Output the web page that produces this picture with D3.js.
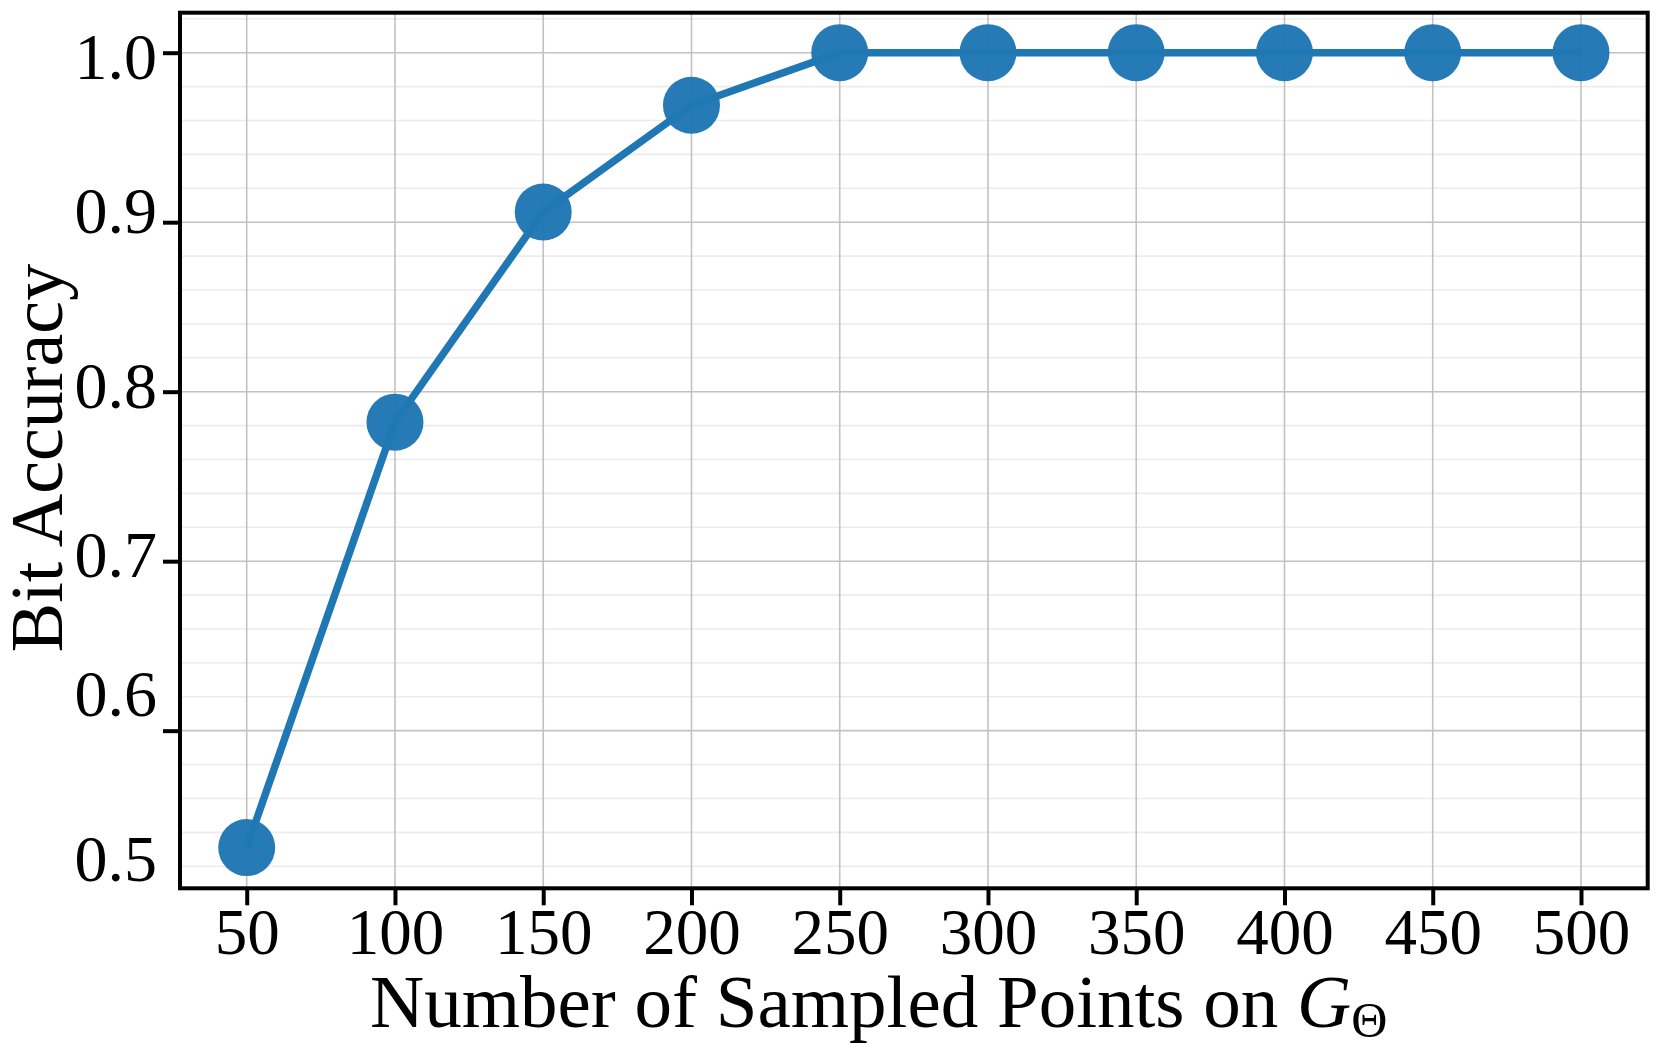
<!DOCTYPE html>
<html>
<head>
<meta charset="utf-8">
<script src="https://cdn.jsdelivr.net/npm/d3@7"></script>
<style>
  body { margin: 0; background: #fff; }
  text { font-family: "Liberation Serif", "DejaVu Serif", serif; fill: #000; }
</style>
</head>
<body>
<svg id="chart" width="1660" height="1050"></svg>
<script>
// sampled points vs bit accuracy
const samplePoints = [50, 100, 150, 200, 250, 300, 350, 400, 450, 500];
const bitAccuracy  = [0.531, 0.782, 0.906, 0.969, 1.0, 1.0, 1.0, 1.0, 1.0, 1.0];

const yTicks       = [0.6, 0.7, 0.8, 0.9, 1.0];
const yTickLabels  = ["1.0", "0.9", "0.8", "0.7", "0.6", "0.5"];
const yLabelAt     = [0.998, 0.907, 0.804, 0.704, 0.622, 0.525];   // where the labels sit in the picture
const yMinor       = d3.range(0.52, 1.021, 0.02).filter(v => Math.abs(v * 10 - Math.round(v * 10)) > 1e-6);

const svg = d3.select("#chart");

const plotL = 180, plotR = 1647.7, plotT = 12.7, plotB = 888.3;

const x = d3.scaleLinear().domain([27.5, 522.5]).range([plotL, plotR]);
const y = d3.scaleLinear().domain([0.507, 1.0236]).range([plotB, plotT]);

// grid
const grid = svg.append("g");
grid.selectAll(".minor").data(yMinor).join("line")
    .attr("x1", plotL).attr("x2", plotR)
    .attr("y1", d => y(d)).attr("y2", d => y(d))
    .attr("stroke", "#ececec").attr("stroke-width", 1.6);
grid.selectAll(".hmajor").data(yTicks).join("line")
    .attr("x1", plotL).attr("x2", plotR)
    .attr("y1", d => y(d)).attr("y2", d => y(d))
    .attr("stroke", "#c2c2c2").attr("stroke-width", 1.6);
grid.selectAll(".vmajor").data(samplePoints).join("line")
    .attr("x1", d => x(d)).attr("x2", d => x(d))
    .attr("y1", plotT).attr("y2", plotB)
    .attr("stroke", "#c2c2c2").attr("stroke-width", 1.6);

// series
const pts = samplePoints.map((s, i) => [s, bitAccuracy[i]]);
svg.append("path")
    .datum(pts)
    .attr("d", d3.line().x(d => x(d[0])).y(d => y(d[1])))
    .attr("fill", "none")
    .attr("stroke", "#1f77b4")
    .attr("stroke-width", 7.5);
svg.append("g").selectAll("circle").data(pts).join("circle")
    .attr("cx", d => x(d[0])).attr("cy", d => y(d[1]))
    .attr("r", 28.5)
    .attr("fill", "#1f77b4")
    .attr("fill-opacity", 0.97);

// frame
svg.append("rect")
    .attr("x", plotL).attr("y", plotT)
    .attr("width", plotR - plotL).attr("height", plotB - plotT)
    .attr("fill", "none").attr("stroke", "#000").attr("stroke-width", 4);

// x axis
const xAxis = d3.axisBottom(x).tickValues(samplePoints).tickSize(17).tickPadding(4);
const gx = svg.append("g").attr("transform", `translate(0,${plotB})`).call(xAxis);
gx.select(".domain").remove();
gx.selectAll(".tick line").attr("stroke", "#000").attr("stroke-width", 4);
gx.selectAll(".tick text")
    .attr("font-size", 65)
    .attr("font-family", "Liberation Serif, serif")
    .attr("fill", "#000")
    .attr("dy", null)
    .attr("y", 66);

// y axis: ticks only, labels placed where the picture shows them
const yAxis = d3.axisLeft(y).tickValues(yTicks).tickSize(17).tickFormat("");
const gy = svg.append("g").attr("transform", `translate(${plotL},0)`).call(yAxis);
gy.select(".domain").remove();
gy.selectAll(".tick line").attr("stroke", "#000").attr("stroke-width", 4);

svg.append("g").selectAll("text").data(yTickLabels).join("text")
    .attr("x", 157)
    .attr("y", (d, i) => y(yLabelAt[i]))
    .attr("dy", "0.35em")
    .attr("text-anchor", "end")
    .attr("font-size", 66)
    .text(d => d);

// axis titles
svg.append("text")
    .attr("transform", "translate(62,458) rotate(-90)")
    .attr("text-anchor", "middle")
    .attr("font-size", 74)
    .text("Bit Accuracy");

const xt = svg.append("text")
    .attr("x", 370).attr("y", 1027)
    .attr("font-size", 75);
xt.append("tspan").text("Number of Sampled Points on ");
xt.append("tspan").attr("font-style", "italic").text("G");
xt.append("tspan").attr("font-size", 50).attr("dy", 10).text("Θ");
</script>
</body>
</html>
